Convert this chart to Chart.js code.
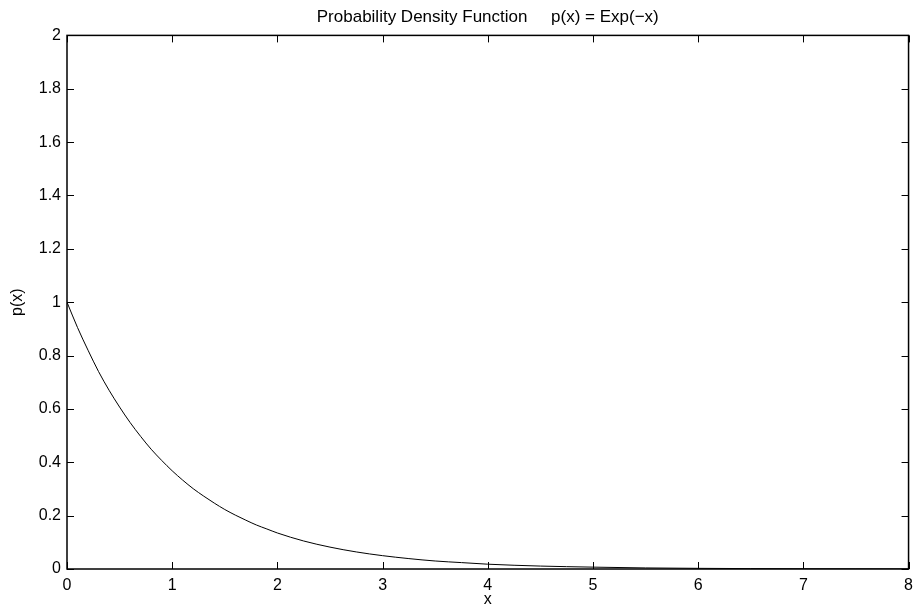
<!DOCTYPE html>
<html>
<head>
<meta charset="utf-8">
<script src="https://cdn.jsdelivr.net/npm/chart.js@4"></script>
<style>
  html, body { margin: 0; padding: 0; background: #fff; }
  #wrap { width: 920px; height: 609px; }
</style>
</head>
<body>
<div id="wrap"><canvas id="pdf"></canvas></div>
<script>
// values
var xs = [0, 0.1, 0.2, 0.3, 0.4, 0.5, 0.6, 0.7, 0.8, 0.9, 1, 1.1, 1.2, 1.3, 1.4, 1.5, 1.6, 1.7, 1.8, 1.9, 2,
          2.25, 2.5, 2.75, 3, 3.25, 3.5, 3.75, 4, 4.5, 5, 5.5, 6, 6.5, 7, 7.5, 8];
var px = [1, 0.905, 0.82, 0.74, 0.67, 0.607, 0.549, 0.497, 0.449, 0.407, 0.368, 0.333, 0.301, 0.273, 0.247, 0.223, 0.202, 0.183, 0.165, 0.15, 0.135,
          0.105, 0.082, 0.064, 0.05, 0.039, 0.03, 0.024, 0.018, 0.011, 0.007, 0.004, 0.0025, 0.0015, 0.0009, 0.0006, 0.0003];
var xTicks = [0, 1, 2, 3, 4, 5, 6, 7, 8];
var yTicks = [0, 0.2, 0.4, 0.6, 0.8, 1, 1.2, 1.4, 1.6, 1.8, 2];

var points = xs.map(function (x, i) { return { x: x, y: px[i] }; });
var fam = "'Liberation Sans', Arial, Helvetica, sans-serif";
var font = { family: fam, size: 16 };

// box around plot + inward ticks on all four sides
var boxTicks = {
  id: 'boxTicks',
  afterDraw: function (chart) {
    var c = chart.ctx, a = chart.chartArea;
    var sx = chart.scales.x, sy = chart.scales.y, len = 7;
    c.save();
    c.strokeStyle = '#000';
    c.lineWidth = 1;
    c.beginPath();
    xTicks.forEach(function (v) {
      var p = Math.round(sx.getPixelForValue(v)) + 0.5;
      c.moveTo(p, a.bottom); c.lineTo(p, a.bottom - len);
      c.moveTo(p, a.top); c.lineTo(p, a.top + len);
    });
    yTicks.forEach(function (v) {
      var p = Math.round(sy.getPixelForValue(v)) + 0.5;
      c.moveTo(a.left, p); c.lineTo(a.left + len, p);
      c.moveTo(a.right, p); c.lineTo(a.right - len, p);
    });
    c.stroke();
    c.lineWidth = 1.5;
    c.strokeRect(a.left, a.top, a.right - a.left, a.bottom - a.top);
    c.restore();
  }
};

new Chart(document.getElementById('pdf'), {
  type: 'line',
  data: {
    datasets: [{
      data: points,
      borderColor: '#000',
      borderWidth: 1,
      pointRadius: 0,
      fill: false,
      cubicInterpolationMode: 'monotone'
    }]
  },
  options: {
    responsive: true,
    maintainAspectRatio: false,
    animation: false,
    layout: { padding: { left: 0, right: 9, top: 0, bottom: 0 } },
    plugins: {
      legend: { display: false },
      tooltip: { enabled: false },
      title: {
        display: true,
        fullSize: false,
        text: 'Probability Density Function     p(x) = Exp(\u2212x)',
        color: '#000',
        font: { family: fam, size: 17, weight: 'normal' },
        padding: { top: 7, bottom: 8 }
      }
    },
    scales: {
      x: {
        type: 'linear',
        min: 0, max: 8,
        afterBuildTicks: function (s) { s.ticks = xTicks.map(function (v) { return { value: v }; }); },
        afterFit: function (s) { s.height = 40; },
        grid: { display: false, drawTicks: false },
        border: { display: false },
        ticks: { color: '#000', font: font, padding: 7, maxRotation: 0 },
        title: { display: true, text: 'x', color: '#000', font: font, padding: { top: 0, bottom: 0 } }
      },
      y: {
        min: 0, max: 2,
        afterBuildTicks: function (s) { s.ticks = yTicks.map(function (v) { return { value: v }; }); },
        afterFit: function (s) { s.width = 67; },
        grid: { display: false, drawTicks: false },
        border: { display: false },
        ticks: {
          color: '#000', font: font, padding: 6,
          callback: function (v) { return String(+Number(v).toFixed(1)); }
        },
        title: { display: true, text: 'p(x)', color: '#000', font: font, padding: { top: 8, bottom: 0 } }
      }
    }
  },
  plugins: [boxTicks]
});
</script>
</body>
</html>
